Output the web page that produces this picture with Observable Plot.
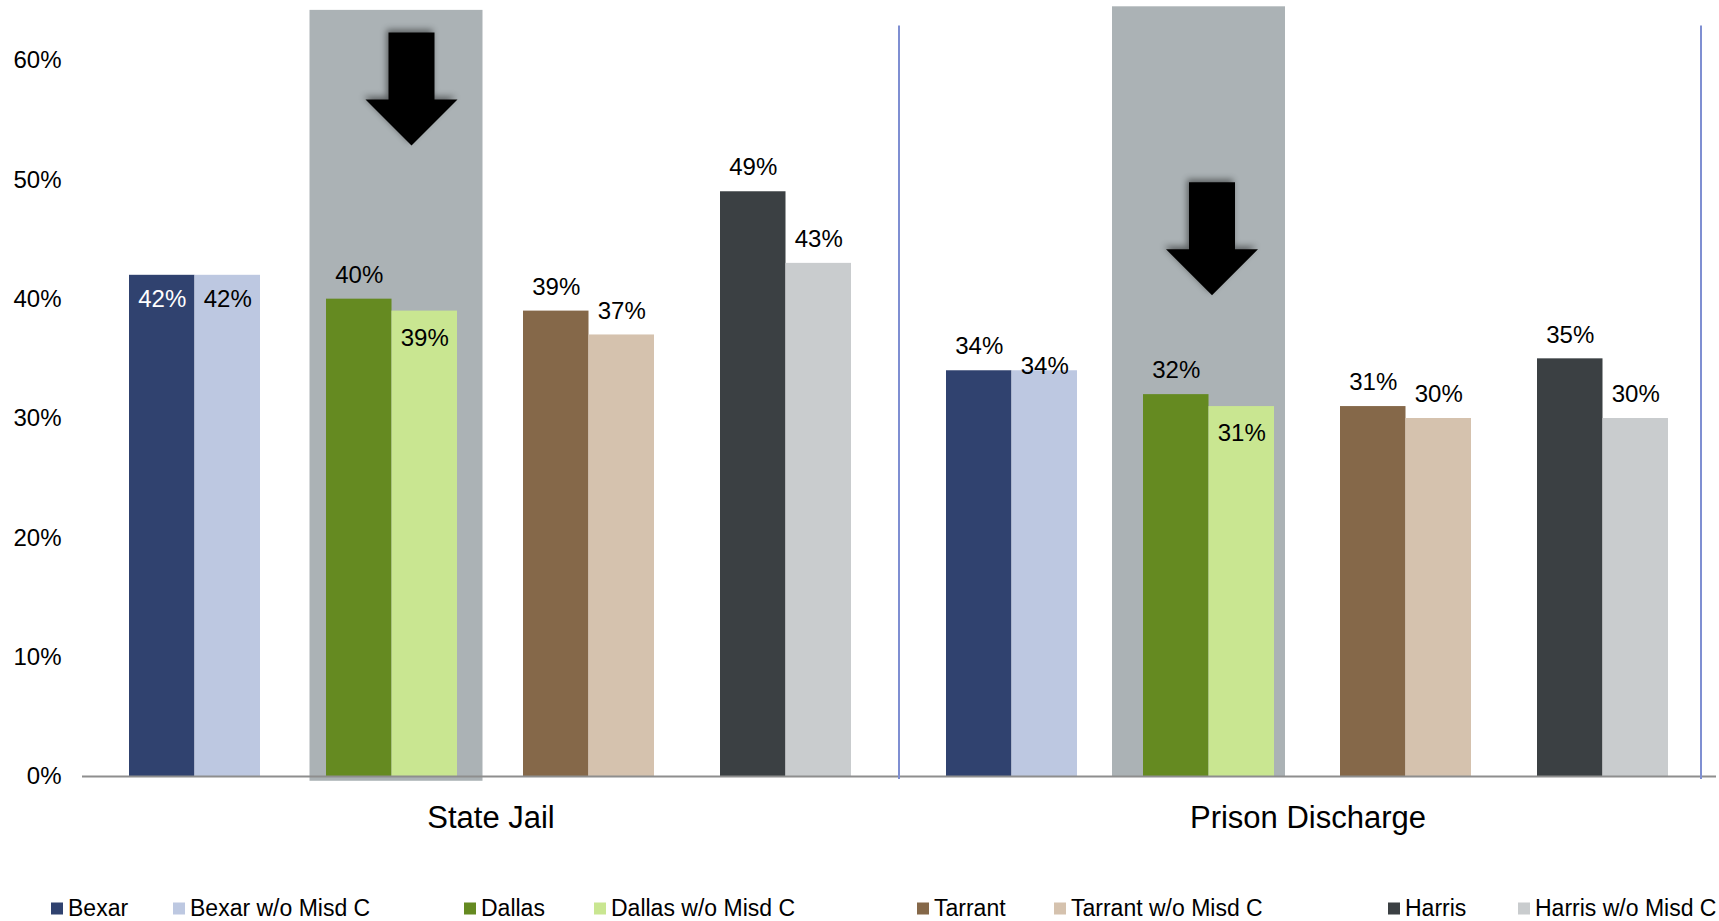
<!DOCTYPE html>
<html><head><meta charset="utf-8">
<script src="https://cdn.jsdelivr.net/npm/d3@7"></script>
<script src="https://cdn.jsdelivr.net/npm/@observablehq/plot@0.6"></script>
<style>
body{margin:0;background:#fff;font-family:"Liberation Sans",Arial,sans-serif;}
#legend{position:relative;height:51px;width:1719px;}
.item{position:absolute;top:38px;display:flex;align-items:center;font-size:23px;color:#000;line-height:1;white-space:nowrap;transform:translateY(-50%);}
.sw{width:12px;height:12px;margin-right:5px;flex:none;}
</style></head><body><div id="chart"></div><div id="legend"></div>
<script>
// ---- data ----
const categories = ["State Jail", "Prison Discharge"];
const counties = ["Bexar", "Dallas", "Tarrant", "Harris"];
const seriesNames = ["Bexar", "Bexar w/o Misd C", "Dallas", "Dallas w/o Misd C",
  "Tarrant", "Tarrant w/o Misd C", "Harris", "Harris w/o Misd C"];
const stateJail = [0.42, 0.42, 0.40, 0.39, 0.39, 0.37, 0.49, 0.43];
const prisonDischarge = [0.34, 0.34, 0.32, 0.31, 0.31, 0.30, 0.35, 0.30];
const yTicks = [0, 0.1, 0.2, 0.3, 0.4, 0.5, 0.6];
// highlight annotation around Dallas in each category
const highlightCounty = "Dallas";
const highlightTop = [0.642, 0.645];
const highlightBottom = [-0.004, 0];
const arrowTail = [0.6235, 0.498];
const separatorTop = 0.629;
const separatorBottom = -0.0025;

// ---- styles ----
const colors = ["#30426f", "#bdc8e1", "#658a21", "#c9e691", "#856849", "#d5c2ae", "#3b4043", "#c9ccce"];
const highlightColor = "#abb2b5";
const labelDy = {"State Jail|Bexar": 24, "State Jail|Bexar w/o Misd C": 24, "State Jail|Dallas w/o Misd C": 27,
  "Prison Discharge|Bexar w/o Misd C": -4, "Prison Discharge|Dallas w/o Misd C": 27};
const whiteLabels = ["State Jail|Bexar"];
const highlightInsets = [[-16.5, -25.5], [-31, -11]];
const arrowDx = [19.5, 3];
const separatorDx = [113, 98];
const legendLeft = [51, 173, 464, 594, 917, 1054, 1388, 1518];

const values = [stateJail, prisonDischarge];
const rows = [];
categories.forEach((category, ci) => {
  seriesNames.forEach((series, si) => {
    rows.push({category, series, county: counties[Math.floor(si / 2)], base: si % 2 === 0,
      value: values[ci][si], key: category + "|" + series});
  });
});
rows.forEach(r => { r.dy = labelDy[r.key] ?? -24; r.white = whiteLabels.includes(r.key); });
const highlights = categories.map((category, i) => ({category, county: highlightCounty, y1: highlightBottom[i], y2: highlightTop[i]}));
const arrows = categories.map((category, i) => ({category, county: highlightCounty, tail: arrowTail[i]}));
const seps = categories.map((category) => ({category, county: counties[counties.length - 1], y1: separatorBottom, y2: separatorTop}));

const arrowShape = {
  draw(context, l) {
    const sw = 23, hw = 46, hl = 46;
    context.moveTo(-sw, 0);
    context.lineTo(sw, 0);
    context.lineTo(sw, -(l - hl));
    context.lineTo(hw, -(l - hl));
    context.lineTo(0, -l);
    context.lineTo(-hw, -(l - hl));
    context.lineTo(-sw, -(l - hl));
    context.closePath();
  }
};

const marks = [];
categories.forEach((c, i) => {
  marks.push(Plot.barY(highlights.filter(d => d.category === c), {fx: "category", x: "county", y1: "y1", y2: "y2",
    fill: highlightColor, insetLeft: highlightInsets[i][0], insetRight: highlightInsets[i][1]}));
});
marks.push(Plot.barY(rows.filter(d => d.base), {fx: "category", x: "county", y: "value", fill: "series", insetRight: 65.5}));
marks.push(Plot.barY(rows.filter(d => !d.base), {fx: "category", x: "county", y: "value", fill: "series", insetLeft: 65.5}));
marks.push(Plot.ruleY([0], {stroke: "#8e8e8e", strokeWidth: 2}));
categories.forEach((c, i) => {
  marks.push(Plot.ruleX(seps.filter(d => d.category === c), {fx: "category", x: "county", y1: "y1", y2: "y2",
    dx: separatorDx[i], stroke: "#7f8fd2", strokeWidth: 2}));
});
// value labels
const dyGroups = Array.from(new Set(rows.map(r => r.dy)));
for (const base of [true, false]) {
  for (const dy of dyGroups) {
    for (const white of [true, false]) {
      const sub = rows.filter(r => r.base === base && r.dy === dy && r.white === white);
      if (!sub.length) continue;
      marks.push(Plot.text(sub, {fx: "category", x: "county", y: "value", text: d => d3.format(".0%")(d.value),
        dx: base ? -32.75 : 32.75, dy, fill: white ? "white" : "black", fontSize: 24}));
    }
  }
}
categories.forEach((c, i) => {
  marks.push(Plot.vector(arrows.filter(d => d.category === c), {fx: "category", x: "county", y: "tail",
    length: 113, rotate: 180, anchor: "start", shape: arrowShape, fill: "black", stroke: "none", dx: arrowDx[i]}));
});
marks.push(Plot.axisY({ticks: yTicks, tickFormat: d3.format(".0%"), tickSize: 0, tickPadding: 21, fontSize: 24, label: null}));
marks.push(Plot.axisFx({anchor: "bottom", tickSize: 0, tickPadding: 29, fontSize: 31, label: null}));

const chart = Plot.plot({
  width: 1719,
  height: 870,
  marginTop: 60,
  marginBottom: 94,
  marginLeft: 82,
  marginRight: 3,
  style: {fontFamily: "'Liberation Sans', Arial, sans-serif", color: "black", background: "white"},
  fx: {domain: categories, padding: 0, paddingOuter: 0},
  x: {domain: counties, paddingInner: 0.335, paddingOuter: 0.241, axis: null},
  y: {domain: [0, 0.6], axis: null},
  color: {domain: seriesNames, range: colors},
  marks
});
document.getElementById("chart").appendChild(chart);
chart.querySelectorAll('g[aria-label="vector"] path').forEach(p => {
  p.style.filter = "drop-shadow(2px 3px 3px rgba(0,0,0,0.45))";
});

const legend = document.getElementById("legend");
seriesNames.forEach((s, i) => {
  const item = document.createElement("div");
  item.className = "item";
  item.style.left = legendLeft[i] + "px";
  const sw = document.createElement("span");
  sw.className = "sw";
  sw.style.background = colors[i];
  const t = document.createElement("span");
  t.textContent = s;
  item.appendChild(sw); item.appendChild(t);
  legend.appendChild(item);
});
</script></body></html>
